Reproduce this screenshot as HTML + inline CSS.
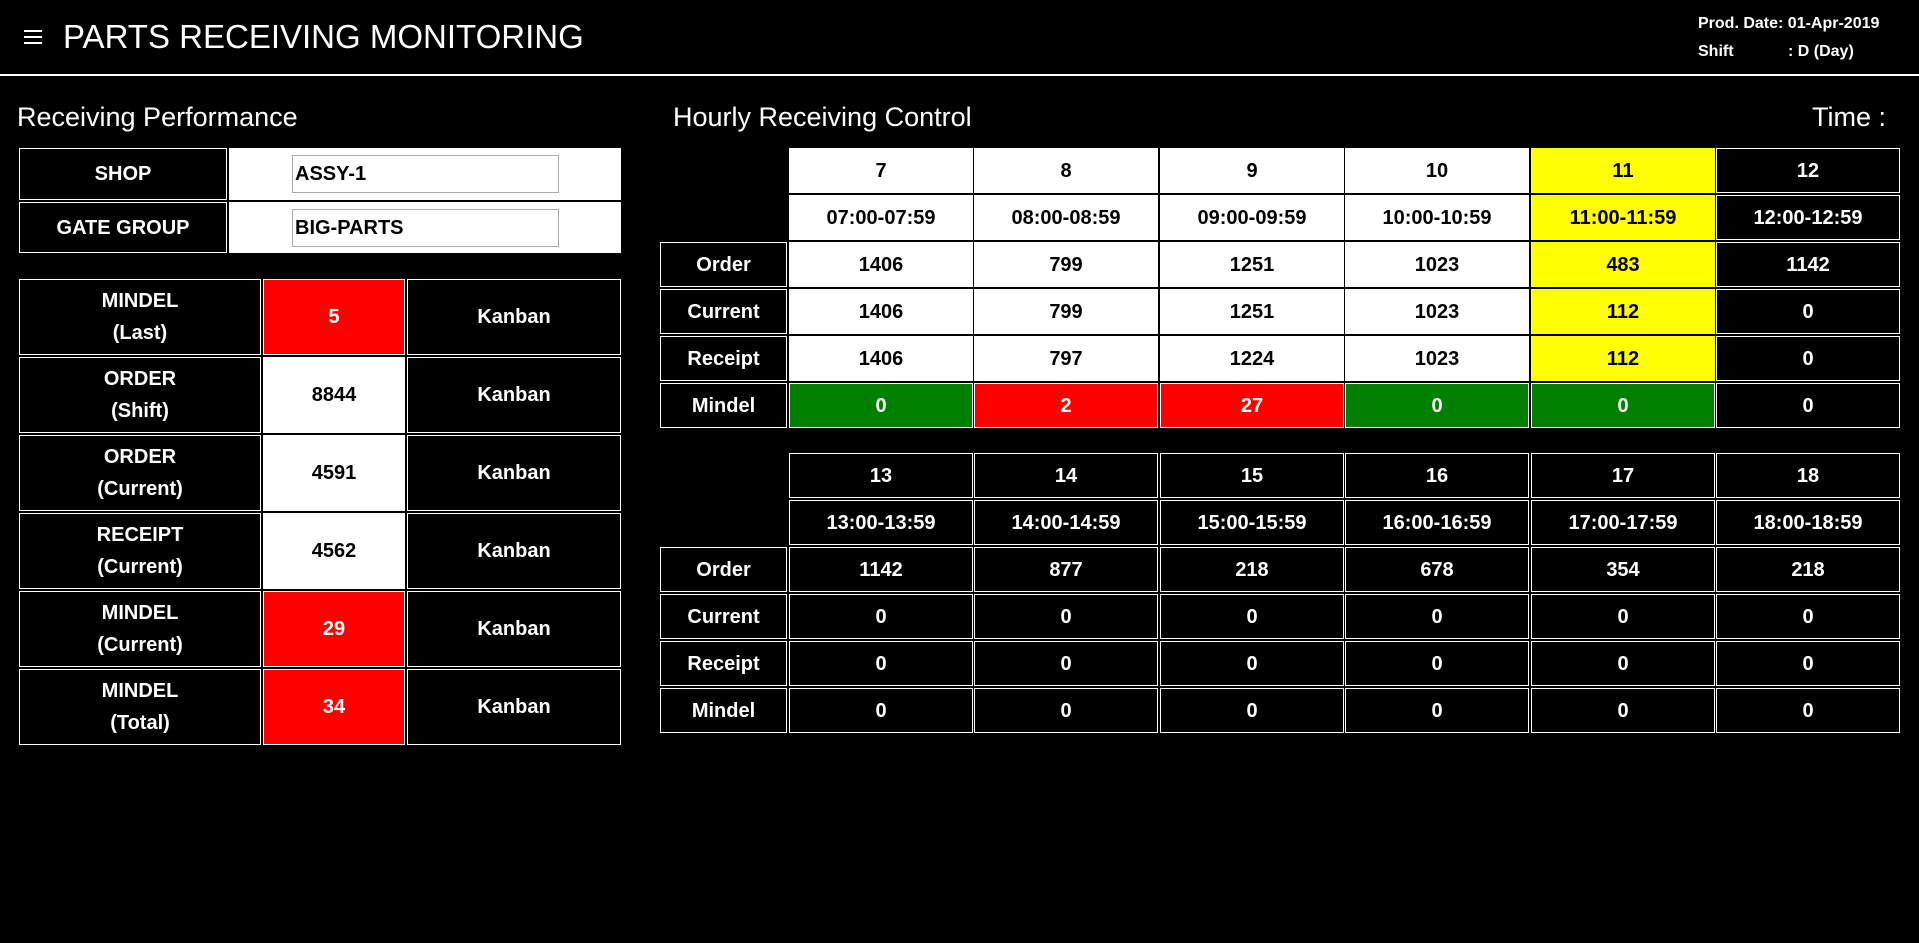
<!DOCTYPE html>
<html><head><meta charset="utf-8">
<style>
html,body{margin:0;padding:0;background:#000;width:1919px;height:943px;overflow:hidden;font-family:"Liberation Sans",Arial,sans-serif;color:#fff;}
.abs{position:absolute;box-sizing:border-box;}
.cell{position:absolute;box-sizing:border-box;border:1px solid #fff;display:flex;align-items:center;justify-content:center;text-align:center;font-weight:bold;font-size:20px;line-height:32px;}
.w{background:#fff;color:#000;}
.k{background:#000;color:#fff;}
.y{background:#ffff00;color:#000;}
.r{background:#ff0000;color:#fff;}
.g{background:#008000;color:#fff;}
</style></head>
<body>
<div class="abs" style="left:24px;top:30px;width:20px;height:14px;">
  <div class="abs" style="left:0;top:0;width:18px;height:2px;background:#fff"></div>
  <div class="abs" style="left:0;top:6px;width:18px;height:2px;background:#fff"></div>
  <div class="abs" style="left:0;top:12px;width:18px;height:2px;background:#fff"></div>
</div>
<div class="abs" style="left:63px;top:17px;font-size:33px;line-height:40px;white-space:nowrap;">PARTS RECEIVING MONITORING</div>
<div class="abs" style="left:1698px;top:14px;font-size:16px;font-weight:bold;line-height:20px;white-space:nowrap;">Prod. Date: 01-Apr-2019</div>
<div class="abs" style="left:1698px;top:42px;font-size:16px;font-weight:bold;line-height:20px;">Shift</div>
<div class="abs" style="left:1788px;top:42px;font-size:16px;font-weight:bold;line-height:20px;white-space:nowrap;">: D (Day)</div>
<div class="abs" style="left:0;top:74px;width:1919px;height:2px;background:#fff;"></div>

<div class="abs" style="left:17px;top:101px;font-size:27px;line-height:32px;white-space:nowrap;">Receiving Performance</div>
<div class="abs" style="left:673px;top:101px;font-size:27px;line-height:32px;white-space:nowrap;">Hourly Receiving Control</div>
<div class="abs" style="left:1812px;top:101px;font-size:27px;line-height:32px;white-space:nowrap;">Time :</div>

<div class="cell k" style="left:19px;top:148px;width:208px;height:52px;">SHOP</div>
<div class="abs" style="left:229px;top:148px;width:392px;height:52px;background:#fff;"></div>
<div class="abs" style="left:292px;top:155px;width:267px;height:38px;border:1px solid #aaa;background:#fff;color:#000;font-weight:bold;font-size:20px;line-height:36px;padding-left:2px;">ASSY-1</div>
<div class="cell k" style="left:19px;top:202px;width:208px;height:51px;">GATE GROUP</div>
<div class="abs" style="left:229px;top:202px;width:392px;height:51px;background:#fff;"></div>
<div class="abs" style="left:292px;top:209px;width:267px;height:38px;border:1px solid #aaa;background:#fff;color:#000;font-weight:bold;font-size:20px;line-height:36px;padding-left:2px;">BIG-PARTS</div>

<div id="root"></div>
<script>
// Left summary data
const perfLabels = ["MINDEL<br>(Last)","ORDER<br>(Shift)","ORDER<br>(Current)","RECEIPT<br>(Current)","MINDEL<br>(Current)","MINDEL<br>(Total)"];
const perfValues = [5, 8844, 4591, 4562, 29, 34];
const perfColors = ["r","w","w","w","r","r"];
const perfUnits = ["Kanban","Kanban","Kanban","Kanban","Kanban","Kanban"];

// Hourly data
const hours = [7,8,9,10,11,12,13,14,15,16,17,18];
const ranges = ["07:00-07:59","08:00-08:59","09:00-09:59","10:00-10:59","11:00-11:59","12:00-12:59","13:00-13:59","14:00-14:59","15:00-15:59","16:00-16:59","17:00-17:59","18:00-18:59"];
const orderVals = [1406,799,1251,1023,483,1142,1142,877,218,678,354,218];
const currentVals = [1406,799,1251,1023,112,0,0,0,0,0,0,0];
const receiptVals = [1406,797,1224,1023,112,0,0,0,0,0,0,0];
const mindelVals = [0,2,27,0,0,0,0,0,0,0,0,0];
const currentHour = 11;
const rowLabels = ["Order","Current","Receipt","Mindel"];

const root = document.getElementById('root');
function mk(cls, x, y, w, h, html) {
  const d = document.createElement('div');
  d.className = 'cell ' + cls;
  d.style.left = x + 'px'; d.style.top = y + 'px';
  d.style.width = w + 'px'; d.style.height = h + 'px';
  d.innerHTML = html;
  root.appendChild(d);
  return d;
}

perfLabels.forEach((lab, i) => {
  const y = 279 + i * 78;
  const a = mk('k', 19, y, 242, 76, lab);
  
  
  const b = mk(perfColors[i], 263, y, 142, 76, String(perfValues[i]));
  
  
  const c = mk('k', 407, y, 214, 76, perfUnits[i]);
  
  
});

function stateCls(h) { return h < currentHour ? 'w' : (h === currentHour ? 'y' : 'k'); }
function mindelCls(h, v) { if (h > currentHour) return 'k'; return v > 0 ? 'r' : 'g'; }

[0, 1].forEach(blk => {
  const top = blk === 0 ? 148 : 453;
  const rowTops = [0, 47, 94, 141, 188, 235].map(o => top + o);
  rowLabels.forEach((lab, r) => {
    const l = mk('k', 660, rowTops[r + 2], 127, 45, lab);
    
    
  });
  for (let j = 0; j < 6; j++) {
    const i = blk * 6 + j;
    const h = hours[i];
    const x = Math.round(789 + j * 185.4);
    const cls = stateCls(h);
    const cells = [
      [cls, String(h), 'hour-' + h],
      [cls, ranges[i], 'range-' + h],
      [cls, String(orderVals[i]), 'order-' + h],
      [cls, String(currentVals[i]), 'current-' + h],
      [cls, String(receiptVals[i]), 'receipt-' + h],
      [mindelCls(h, mindelVals[i]), String(mindelVals[i]), 'mindel-' + h]
    ];
    cells.forEach((c, r) => {
      const d = mk(c[0], x, rowTops[r], 184, 45, c[1]);
      if (c[0] === 'w' || c[0] === 'y') d.style.borderColor = c[0] === 'w' ? '#fff' : '#ffff00';
      
      
    });
  }
});
</script>
</body></html>
